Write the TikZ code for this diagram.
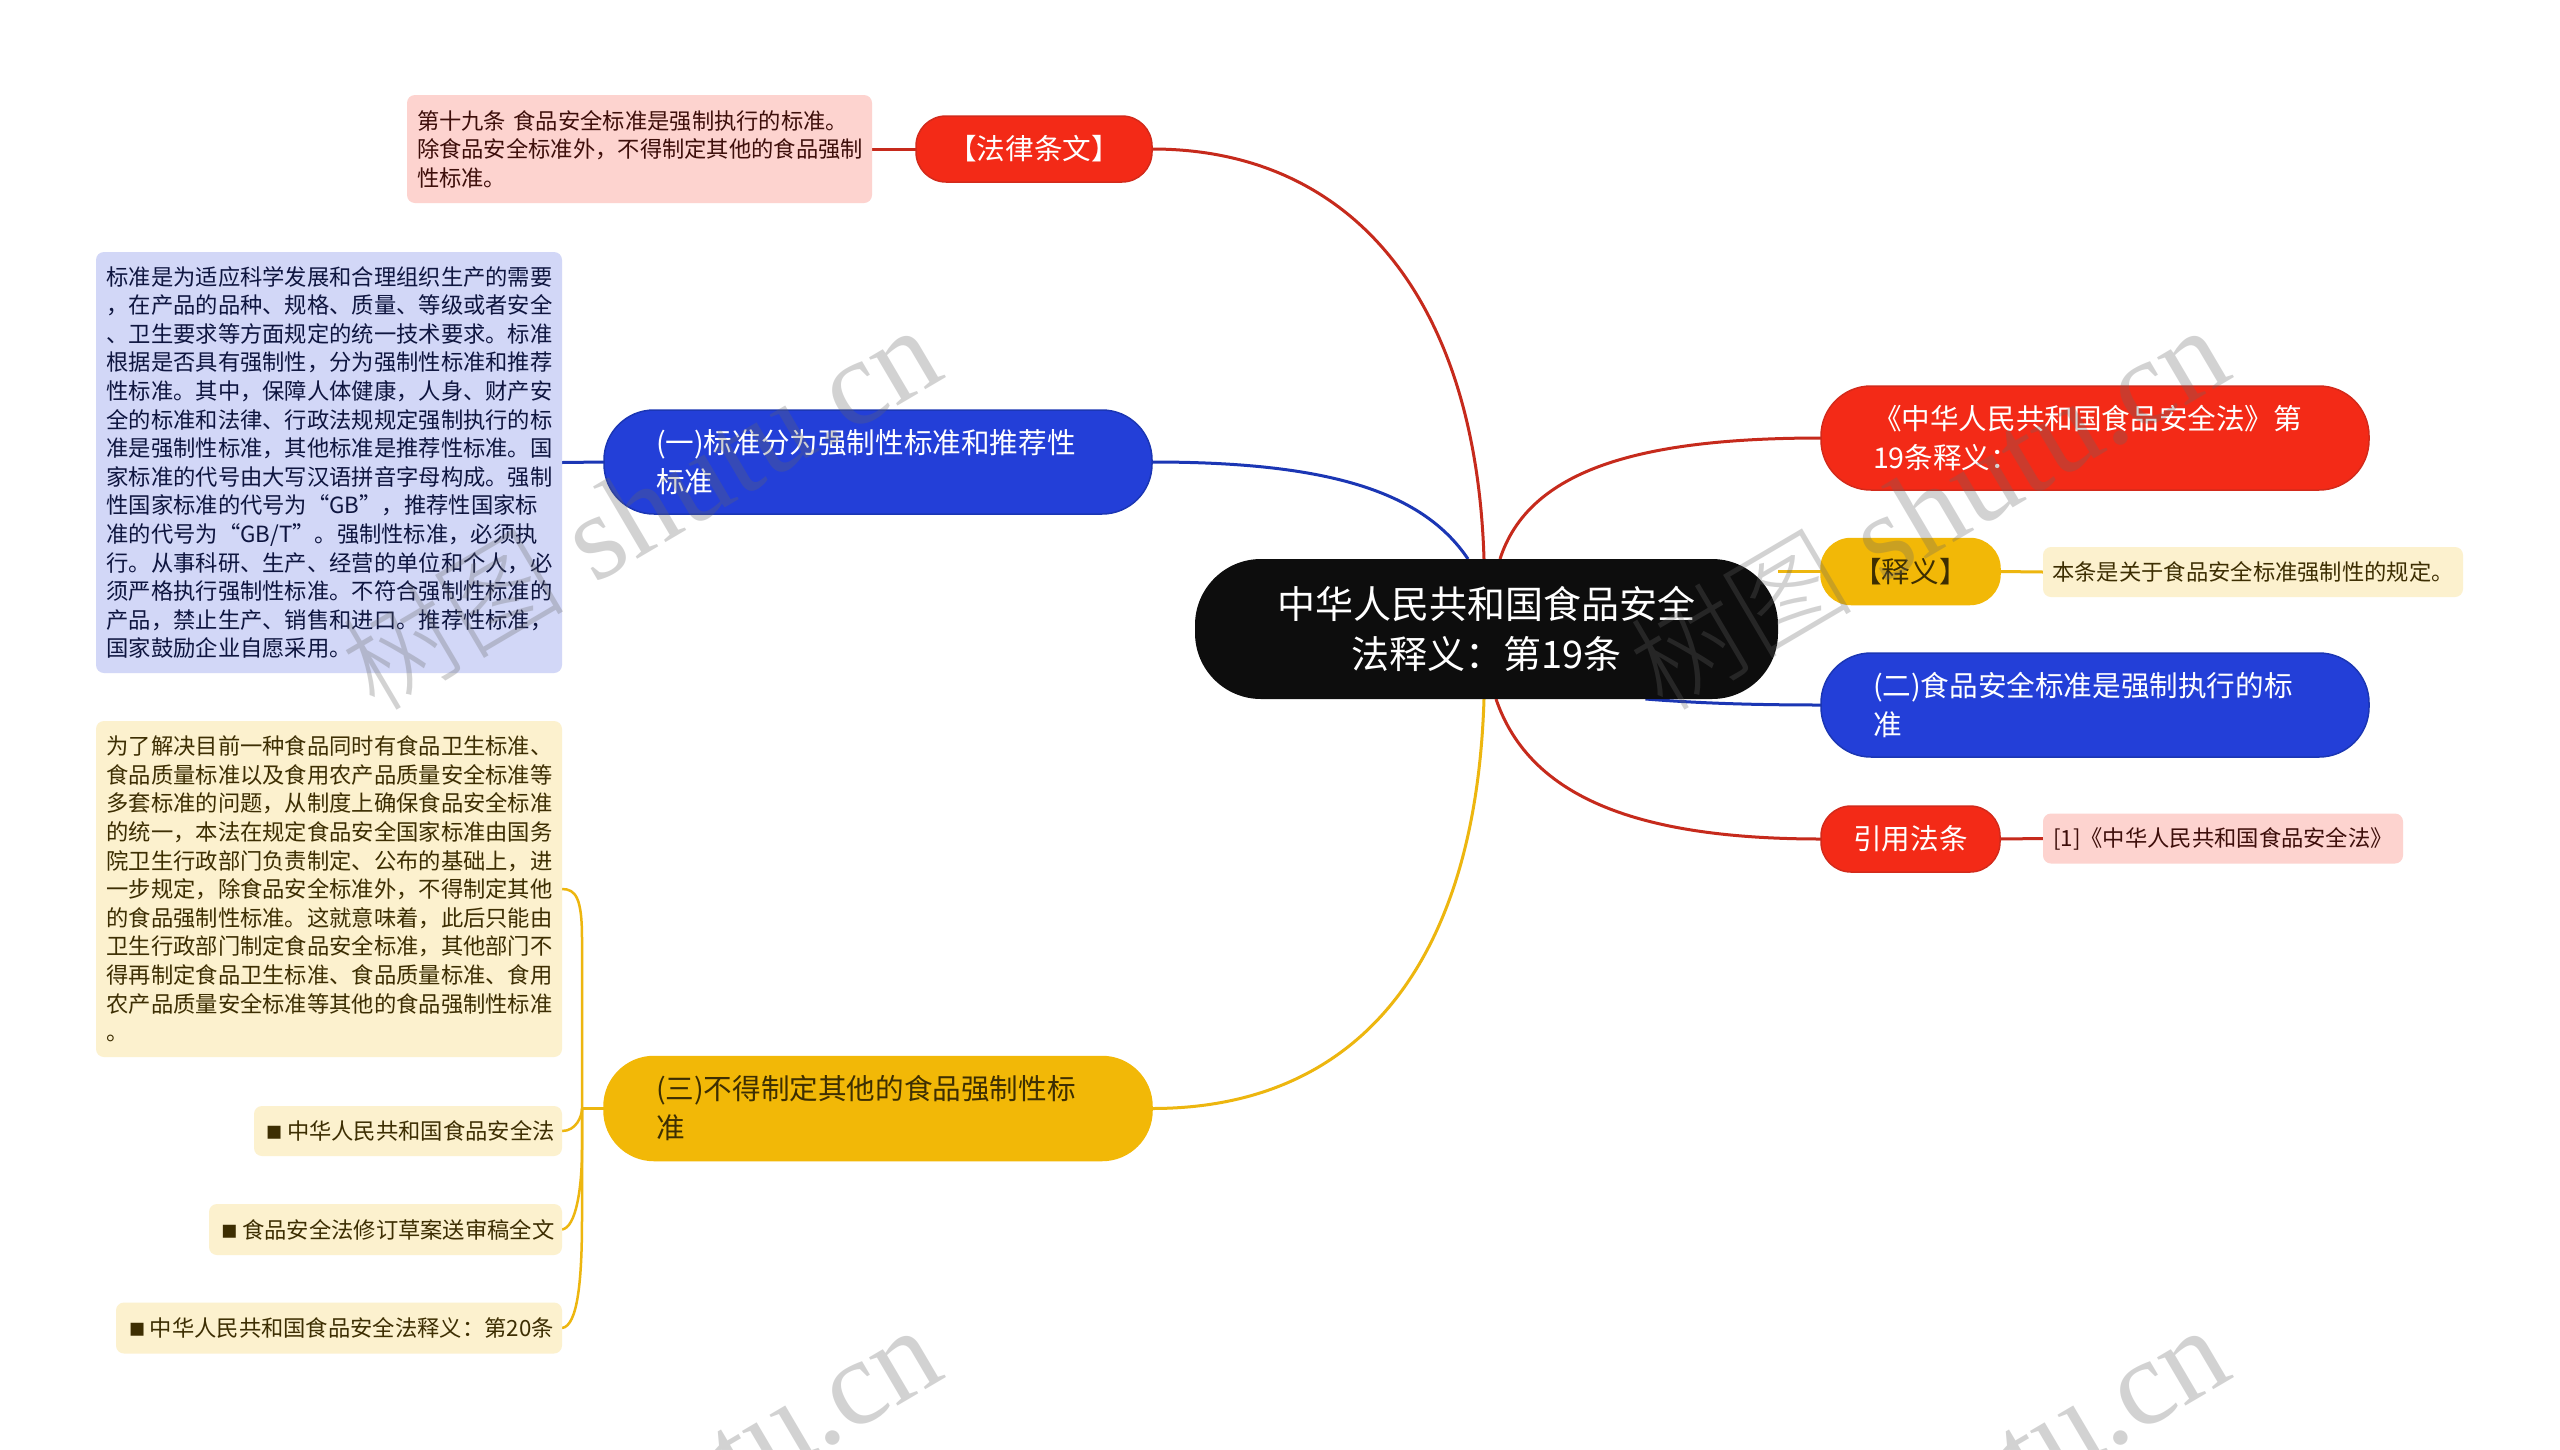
\documentclass[tikz,border=0pt]{standalone}
\usepackage{fontspec}
\setmainfont{Noto Sans CJK SC}
\newfontfamily\wmlatin{Liberation Serif}
\newfontfamily\wmcjk{Noto Sans CJK SC Light}
\newfontfamily\bulletfont{DejaVu Sans}
\definecolor{cred}{HTML}{F32A17}
\definecolor{credl}{HTML}{C62A1C}
\definecolor{cblue}{HTML}{233FD8}
\definecolor{cbluel}{HTML}{1B36B4}
\definecolor{cyel}{HTML}{F2B807}
\definecolor{cyell}{HTML}{EDB60F}
\definecolor{ldred}{HTML}{FDD3CF}
\definecolor{ldblue}{HTML}{D2D7F7}
\definecolor{ldyel}{HTML}{FCF1CE}
\definecolor{tred}{HTML}{3D0E0A}
\definecolor{tblue}{HTML}{0E153F}
\definecolor{tyel}{HTML}{3D2E02}
\pgfdeclarelayer{bgl}
\pgfdeclarelayer{wire}
\pgfdeclarelayer{wm}
\pgfsetlayers{bgl,wire,main,wm}
\tikzset{
  base/.style={inner sep=0pt,outer sep=0pt,align=left},
  big/.style={base,font=\fontsize{28.6}{39}\selectfont,line width=1.5pt},
  pill/.style={big,rounded corners=#1},
  redn/.style={fill=cred,draw=credl!70!cred,text=white},
  bluen/.style={fill=cblue,draw=cbluel,text=white},
  yeln/.style={fill=cyel,draw=cyel,text=tyel},
  detail/.style={base,rounded corners=8pt,font=\fontsize{22.3}{28.6}\selectfont},
  dred/.style={detail,fill=ldred,text=tred},
  dblue/.style={detail,fill=ldblue,text=tblue},
  dyel/.style={detail,fill=ldyel,text=tyel},
  wr/.style={credl,line width=3pt},
  wb/.style={cbluel,line width=3pt},
  wy/.style={cyell,line width=3pt},
  wmark/.style={inner sep=0pt,rotate=30.5,text=black!60,opacity=0.29},
}
\newcommand{\wmtext}{{\wmcjk\fontsize{112}{112}\selectfont 树图}{\wmlatin\fontsize{122}{122}\selectfont\ shutu.cn}}
\newcommand{\sqb}{\hspace*{4pt}{\bulletfont\fontsize{26}{26}\selectfont ▪}\hspace{4pt}}
\begin{document}
\begin{tikzpicture}[x=1pt,y=-1pt]
\useasboundingbox (0,0) rectangle (2560,1449);
\begin{pgfonlayer}{bgl}
\fill[white] (0,0) rectangle (2560,1449);
\end{pgfonlayer}

% centre
\node[base,fill=black!95,align=center,rounded corners=66pt,minimum width=583pt,minimum height=140pt,text=white,font=\fontsize{38}{50}\selectfont] (root) at (1486.5,629) {中华人民共和国食品安全\\法释义：第19条};

% left side
\node[pill=30pt,redn,align=center,minimum width=236pt,minimum height=66pt] (lawn) at (1034,149) {【法律条文】};
\node[dred,text width=445pt,minimum width=465pt,minimum height=108pt] (lawt) at (639.5,149) {第十九条 食品安全标准是强制执行的标准。\\除食品安全标准外，不得制定其他的食品强制\\性标准。};

\node[pill=50pt,bluen,text width=444pt,minimum width=548pt,minimum height=104pt] (n1) at (878,462) {(一)标准分为强制性标准和推荐性\\标准};
\node[dblue,text width=445pt,minimum width=466pt,minimum height=421pt] (t1) at (329,462.5) {标准是为适应科学发展和合理组织生产的需要\\，在产品的品种、规格、质量、等级或者安全\\、卫生要求等方面规定的统一技术要求。标准\\根据是否具有强制性，分为强制性标准和推荐\\性标准。其中，保障人体健康，人身、财产安\\全的标准和法律、行政法规规定强制执行的标\\准是强制性标准，其他标准是推荐性标准。国\\家标准的代号由大写汉语拼音字母构成。强制\\性国家标准的代号为“GB”，推荐性国家标\\准的代号为“GB/T”。强制性标准，必须执\\行。从事科研、生产、经营的单位和个人，必\\须严格执行强制性标准。不符合强制性标准的\\产品，禁止生产、销售和进口。推荐性标准，\\国家鼓励企业自愿采用。};

\node[pill=50pt,yeln,text width=444pt,minimum width=548pt,minimum height=104pt] (n3) at (878,1108.5) {(三)不得制定其他的食品强制性标\\准};
\node[dyel,text width=445pt,minimum width=466pt,minimum height=336pt] (t3) at (329,889) {为了解决目前一种食品同时有食品卫生标准、\\食品质量标准以及食用农产品质量安全标准等\\多套标准的问题，从制度上确保食品安全标准\\的统一，本法在规定食品安全国家标准由国务\\院卫生行政部门负责制定、公布的基础上，进\\一步规定，除食品安全标准外，不得制定其他\\的食品强制性标准。这就意味着，此后只能由\\卫生行政部门制定食品安全标准，其他部门不\\得再制定食品卫生标准、食品质量标准、食用\\农产品质量安全标准等其他的食品强制性标准\\。};
\node[dyel,align=center,minimum width=308pt,minimum height=50pt] (s1) at (408,1131) {\sqb 中华人民共和国食品安全法};
\node[dyel,align=center,minimum width=353pt,minimum height=51pt] (s2) at (385.5,1229.5) {\sqb 食品安全法修订草案送审稿全文};
\node[dyel,align=center,minimum width=446pt,minimum height=51pt] (s3) at (339,1328) {\sqb 中华人民共和国食品安全法释义：第20条};

% right side
\node[pill=50pt,redn,text width=444pt,minimum width=548pt,minimum height=104pt] (r1) at (2095,438) {《中华人民共和国食品安全法》第\\19条释义：};
\node[pill=30pt,yeln,align=center,minimum width=179pt,minimum height=66pt] (r2) at (1910.5,571.5) {【释义】};
\node[dyel,align=center,minimum width=420pt,minimum height=50pt] (r2t) at (2253,572) {本条是关于食品安全标准强制性的规定。};
\node[pill=50pt,bluen,text width=444pt,minimum width=548pt,minimum height=104pt] (r3) at (2095,705) {(二)食品安全标准是强制执行的标\\准};
\node[pill=30pt,redn,align=center,minimum width=179pt,minimum height=66pt] (r4) at (1910.5,839) {引用法条};
\node[dred,align=center,minimum width=360pt,minimum height=50pt] (r4t) at (2223,838.5) {[1]《中华人民共和国食品安全法》};

% connectors
\begin{pgfonlayer}{wire}
\draw[wr] (lawn.east) .. controls +(200,0) and +(-8,-260) .. ([xshift=-2.5pt]root.north);
\draw[wb] (n1.east) .. controls +(170,0) and +(-47,-70) .. ([xshift=-18.5pt]root.north);
\draw[wr] (r1.west) .. controls +(-180,0) and +(29,-90) .. ([xshift=13.5pt]root.north);
\draw[wy] (r2.west) -- (r2.west -| root.east);
\draw[wb] (r3.west) .. controls +(-70,0) and +(50,4) .. ([xshift=159pt]root.south);
\draw[wr] (r4.west) .. controls +(-180,0) and +(34,100) .. ([xshift=9.5pt]root.south);
\draw[wy] (n3.east) .. controls +(210,0) and +(-8,260) .. ([xshift=-2.5pt]root.south);
\draw[wr] (lawt.east) -- (lawn.west);
\draw[wb] (t1.east) -- (n1.west);
\draw[wy] (r2.east) -- (r2t.west);
\draw[wr] (r4.east) -- (r4t.west);
\begin{scope}[cyell,line width=2.5pt]
\coordinate (trunk) at (582,1108.5);
\draw (n3.west) -- (trunk);
\draw (t3.east) .. controls +(14,0) and +(0,-40) .. ([yshift=170pt]trunk) -- (trunk);
\draw (s1.east) .. controls +(14,0) and +(0,8) .. (trunk);
\draw (s2.east) .. controls +(14,-2) and +(0,40) .. ([yshift=-40pt]trunk) -- (trunk);
\draw (s3.east) .. controls +(16,-2) and +(0,60) .. ([yshift=-110pt]trunk) -- (trunk);
\end{scope}
\end{pgfonlayer}

% watermark
\begin{pgfonlayer}{wm}
\begin{scope}
\clip (0,0) rectangle (2560,1449);
\node[wmark] (w1) at (640,508) {\wmtext};
\node[wmark] (w2) at (1928,508) {\wmtext};
\node[wmark] (w3) at (640,1508) {\wmtext};
\node[wmark] (w4) at (1928,1508) {\wmtext};
\end{scope}
\end{pgfonlayer}
\end{tikzpicture}
\end{document}
